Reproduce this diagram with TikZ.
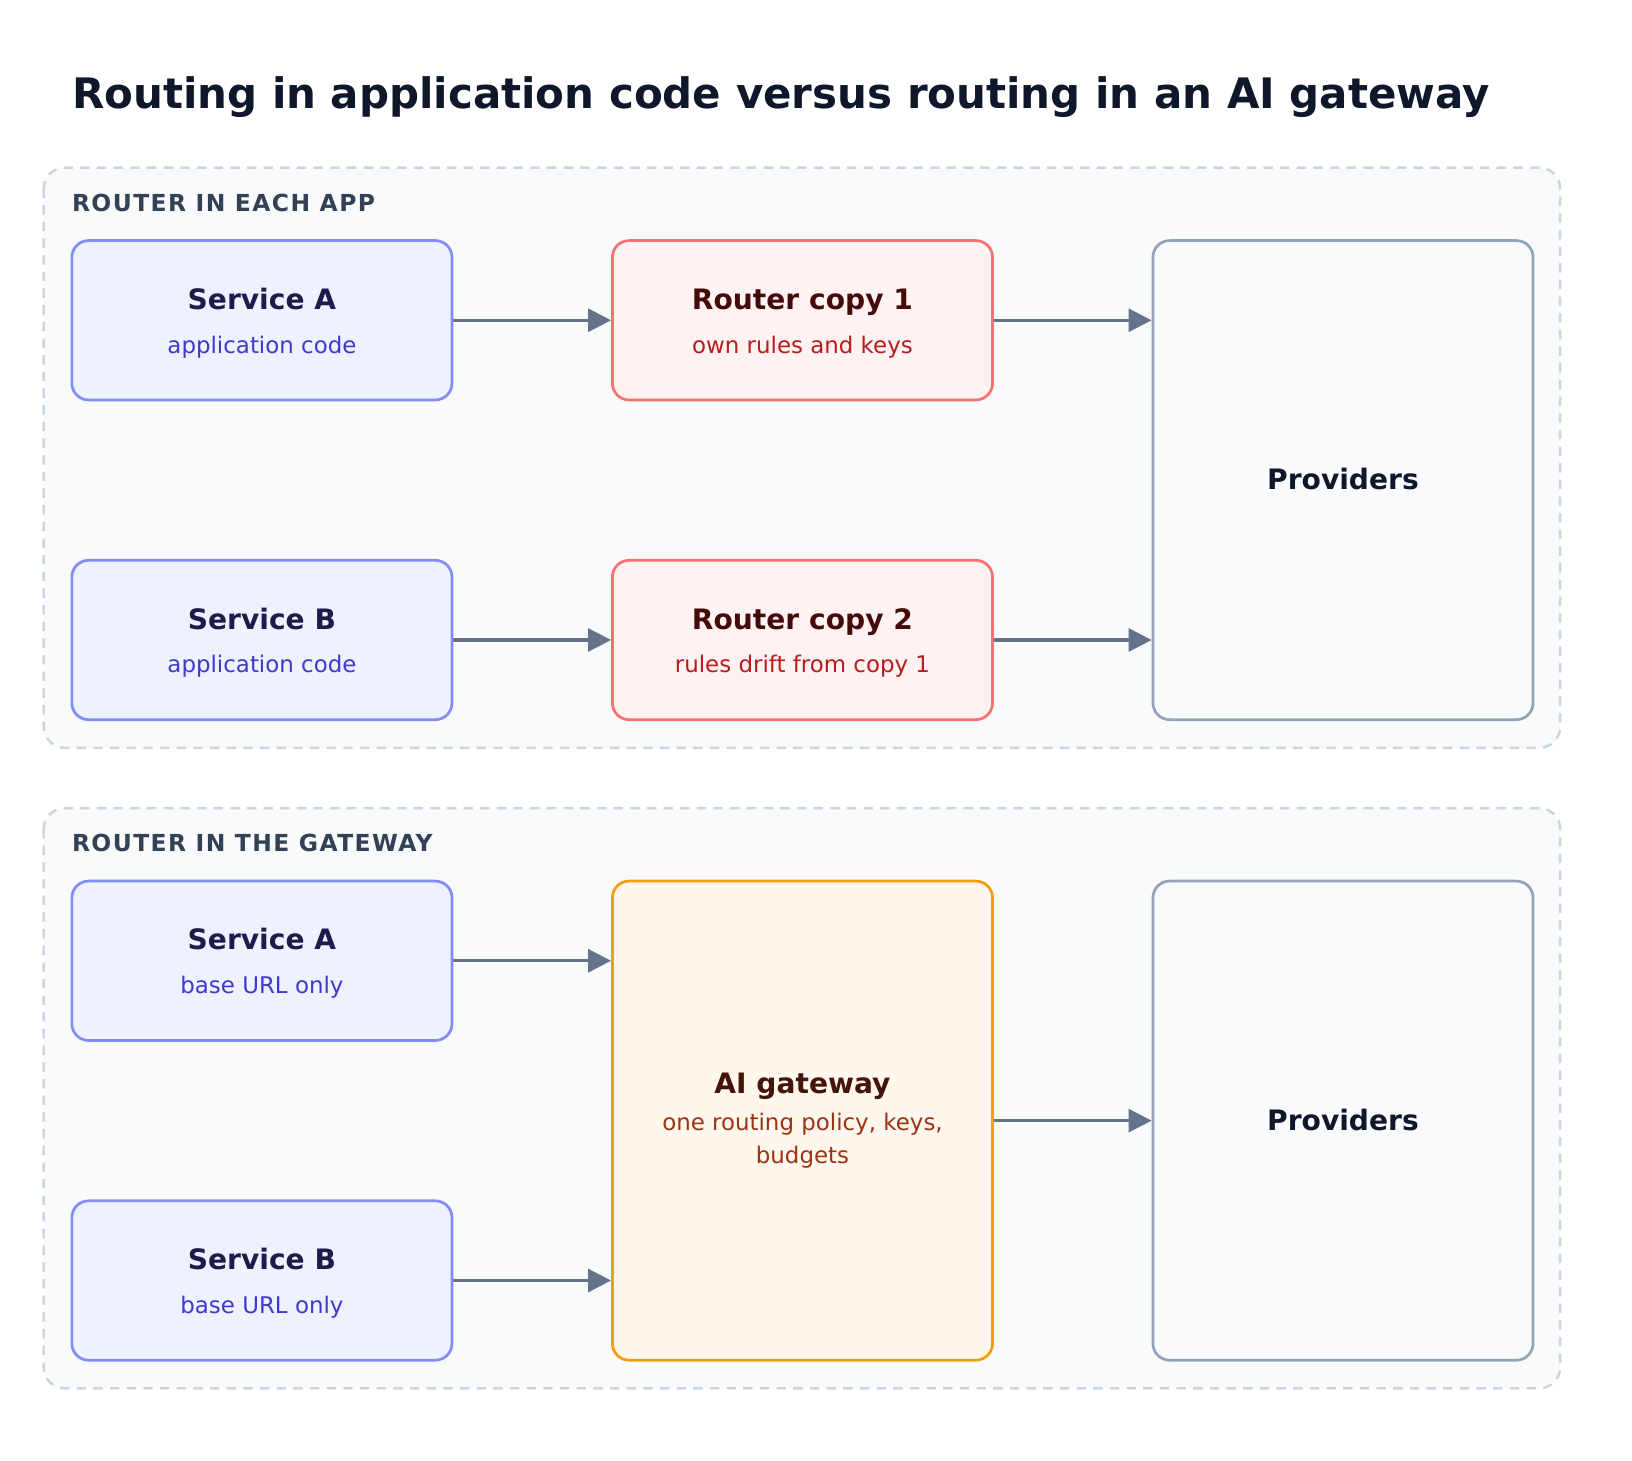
\documentclass[tikz,border=0pt]{standalone}
\usepackage{fontspec}
\setmainfont{DejaVu Sans}
\usetikzlibrary{arrows.meta}
\definecolor{svfill}{HTML}{EEF2FF}\definecolor{svline}{HTML}{818CF8}\definecolor{svt}{HTML}{1E1B4B}\definecolor{svs}{HTML}{4338CA}
\definecolor{rtfill}{HTML}{FEF2F2}\definecolor{rtline}{HTML}{F87171}\definecolor{rtt}{HTML}{450A0A}\definecolor{rts}{HTML}{B91C1C}
\definecolor{gwfill}{HTML}{FFF7ED}\definecolor{gwline}{HTML}{F59E0B}\definecolor{gwt}{HTML}{431407}\definecolor{gws}{HTML}{9A3412}
\definecolor{pvfill}{HTML}{F8FAFC}\definecolor{pvline}{HTML}{94A3B8}\definecolor{pvt}{HTML}{0F172A}
\definecolor{panline}{HTML}{CBD5E1}\definecolor{arr}{HTML}{64748B}\definecolor{lab}{HTML}{334155}
\begin{document}
\begin{tikzpicture}[x=1pt,y=-1pt,
 box/.style={draw,line width=2.6pt,rounded corners=16pt},
 panel/.style={draw=panline,fill=pvfill,line width=2.4pt,dash pattern=on 9pt off 7pt,rounded corners=20pt},
 conn/.style={draw=arr,line width=3pt,-{Triangle[length=22pt,width=22pt]}},
 ttl/.style={font=\fontsize{27}{32}\selectfont\bfseries,align=center,inner sep=0,anchor=base},
 sub/.style={font=\fontsize{22}{31}\selectfont,align=center,inner sep=0,anchor=base},
 sec/.style={anchor=base west,text=lab,inner sep=0,font=\fontsize{22.5}{26}\selectfont\bfseries}]
\useasboundingbox (0,0) rectangle (1567,1402);
\node[anchor=base west,text=pvt,font=\fontsize{40.3}{48}\selectfont\bfseries,inner sep=0] (title) at (69,104) {Routing in application code versus routing in an AI gateway};
\draw[panel] (42,161) rectangle (1498,718);
\node[sec] (l1) at (69,203) {\addfontfeature{LetterSpace=6}ROUTER IN EACH APP};
\draw[panel] (42,776) rectangle (1498,1333);
\node[sec] (l2) at (69,818) {\addfontfeature{LetterSpace=6}ROUTER IN THE GATEWAY};
% top boxes
\node[box,draw=svline,fill=svfill,minimum width=365pt,minimum height=153pt] (sa1) at (251.5,307.5) {};
\node[box,draw=svline,fill=svfill,minimum width=365pt,minimum height=153pt] (sb1) at (251.5,614.5) {};
\node[box,draw=rtline,fill=rtfill,minimum width=365pt,minimum height=153pt] (r1) at (770.5,307.5) {};
\node[box,draw=rtline,fill=rtfill,minimum width=365pt,minimum height=153pt] (r2) at (770.5,614.5) {};
\node[box,draw=pvline,fill=pvfill,minimum width=365pt,minimum height=460pt] (p1) at (1289.5,461) {};
% bottom boxes
\node[box,draw=svline,fill=svfill,minimum width=365pt,minimum height=153pt] (sa2) at (251.5,922.5) {};
\node[box,draw=svline,fill=svfill,minimum width=365pt,minimum height=153pt] (sb2) at (251.5,1229.5) {};
\node[box,draw=gwline,fill=gwfill,minimum width=365pt,minimum height=460pt] (gw) at (770.5,1076) {};
\node[box,draw=pvline,fill=pvfill,minimum width=365pt,minimum height=460pt] (p2) at (1289.5,1076) {};
% texts
\node[ttl,text=svt] (sa1t) at (251.5,297) {Service A};
\node[sub,text=svs] (sa1s) at (251.5,339) {application code};
\node[ttl,text=svt] (sb1t) at (251.5,604) {Service B};
\node[sub,text=svs] (sb1s) at (251.5,646) {application code};
\node[ttl,text=rtt] (r1t) at (770.5,297) {Router copy 1};
\node[sub,text=rts] (r1s) at (770.5,339) {own rules and keys};
\node[ttl,text=rtt] (r2t) at (770.5,604) {Router copy 2};
\node[sub,text=rts] (r2s) at (770.5,646) {rules drift from copy 1};
\node[ttl,text=pvt] (p1t) at (1289.5,470) {Providers};
\node[ttl,text=svt] (sa2t) at (251.5,912) {Service A};
\node[sub,text=svs] (sa2s) at (251.5,954) {base URL only};
\node[ttl,text=svt] (sb2t) at (251.5,1219) {Service B};
\node[sub,text=svs] (sb2s) at (251.5,1261) {base URL only};
\node[ttl,text=gwt] (gwt) at (770.5,1050) {AI gateway};
\node[sub,text=gws,anchor=north] (gws) at (770.5,1069) {one routing policy, keys,\\budgets};
\node[ttl,text=pvt] (p2t) at (1289.5,1085) {Providers};
% connectors
\draw[conn] (sa1.east) -- (r1.west);
\draw[conn] (sb1.east) -- (r2.west);
\draw[conn] (r1.east) -- (r1.east -| p1.west);
\draw[conn] (r2.east) -- (r2.east -| p1.west);
\draw[conn] (sa2.east) -- (sa2.east -| gw.west);
\draw[conn] (sb2.east) -- (sb2.east -| gw.west);
\draw[conn] (gw.east) -- (p2.west);
\end{tikzpicture}
\end{document}
